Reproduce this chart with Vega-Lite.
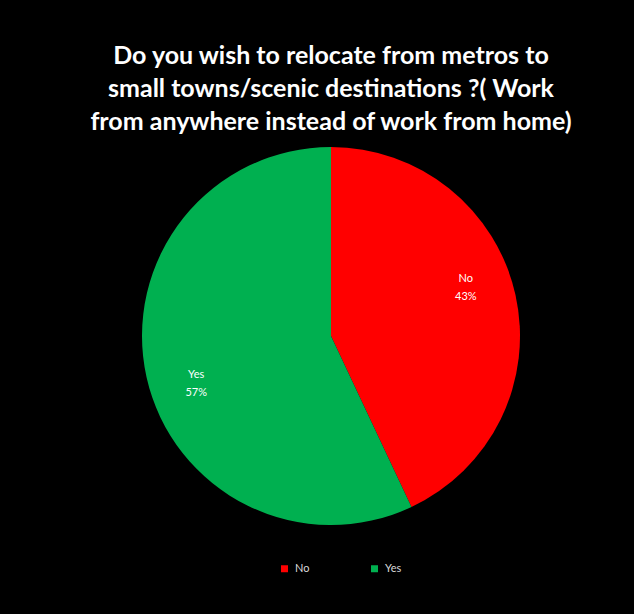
{
  "$schema": "https://vega.github.io/schema/vega-lite/v6.json",
  "width": 378,
  "height": 378,
  "autosize": {"type": "none"},
  "padding": {"left": 142, "top": 147, "right": 114, "bottom": 89},
  "background": "black",
  "config": {"view": {"stroke": null}},
  "title": {
    "text": ["Do you wish to relocate from metros to", "small towns/scenic destinations ?( Work", "from anywhere instead of work from home)"],
    "color": "white",
    "font": "Lato",
    "fontSize": 25,
    "fontWeight": "bold",
    "lineHeight": 33,
    "anchor": "middle",
    "offset": 12
  },
  "data": {
    "values": [
      {"answer": "No", "value": 43, "label": "No\n43%"},
      {"answer": "Yes", "value": 57, "label": "Yes\n57%"}
    ]
  },
  "encoding": {
    "theta": {"field": "value", "type": "quantitative", "stack": true}
  },
  "layer": [
    {
      "mark": {"type": "arc"},
      "encoding": {
        "color": {
          "field": "answer",
          "type": "nominal",
          "scale": {"domain": ["No", "Yes"], "range": ["#FF0000", "#00B050"]},
          "legend": {
            "title": null,
            "orient": "none",
            "legendX": 137,
            "legendY": 416,
            "direction": "horizontal",
            "symbolType": "square",
            "symbolSize": 49,
            "symbolStrokeWidth": 0,
            "labelColor": "#D9D9D9",
            "labelFont": "Lato",
            "labelFontSize": 11,
            "labelOffset": 5,
            "columnPadding": 59
          }
        }
      }
    },
    {
      "mark": {"type": "text", "radius": 143, "thetaOffset": -0.12, "dy": -9, "color": "white", "font": "Lato", "fontSize": 11, "lineBreak": "\n", "lineHeight": 18},
      "encoding": {
        "detail": {"field": "answer", "type": "nominal"},
        "text": {"field": "label", "type": "nominal"}
      }
    }
  ]
}
